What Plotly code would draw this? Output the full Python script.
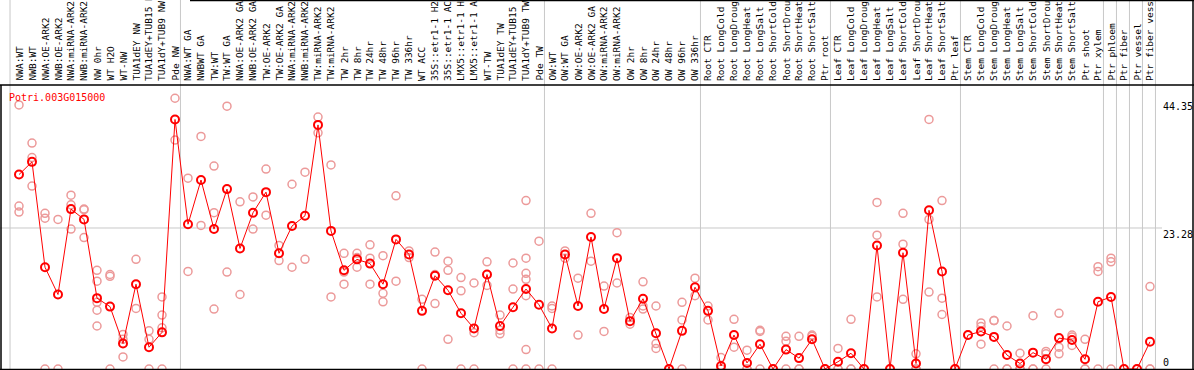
import plotly.graph_objects as go

categories = [
    "NWA:WT", "NWB:WT", "NWA:OE-ARK2", "NWB:OE-ARK2", "NWA:miRNA-ARK2", "NWB:miRNA-ARK2",
    "NW 0hr", "WT H2O", "WT-NW", "TUA1dEY NW", "TUA1dEY+TUB15 NW", "TUA1dY+TUB9 NW", "Pde NW",
    "NWA:WT GA", "NWBWT GA", "TW:WT", "TW:WT GA", "NWA:OE-ARK2 GA", "NWB:OE-ARK2 GA",
    "TW:OE-ARK2", "TW:OE-ARK2 GA", "NWA:miRNA-ARK2", "NWB:miRNA-ARK2", "TW:miRNA-ARK2",
    "TW:miRNA-ARK2", "TW 2hr", "TW 8hr", "TW 24hr", "TW 48hr", "TW 96hr", "TW 336hr",
    "WT ACC", "35S::etr1-1 H2O", "35S::etr1-1 ACC", "LMX5::etr1-1 H2O", "LMX5::etr1-1 ACC",
    "WT-TW", "TUA1dEY TW", "TUA1dEY+TUB15 TW", "TUA1dY+TUB9 TW", "Pde TW",
    "OW:WT", "OW:WT GA", "OW:OE-ARK2", "OW:OE-ARK2 GA", "OW:miRNA-ARK2", "OW:miRNA-ARK2",
    "OW 2hr", "OW 8hr", "OW 24hr", "OW 48hr", "OW 96hr", "OW 336hr",
    "Root CTR", "Root LongCold", "Root LongDrought", "Root LongHeat", "Root LongSalt",
    "Root ShortCold", "Root ShortDrought", "Root ShortHeat", "Root ShortSalt", "Ptr root",
    "Leaf CTR", "Leaf LongCold", "Leaf LongDrought", "Leaf LongHeat", "Leaf LongSalt",
    "Leaf ShortCold", "Leaf ShortDrought", "Leaf ShortHeat", "Leaf ShortSalt", "Ptr leaf",
    "Stem CTR", "Stem LongCold", "Stem LongDrought", "Stem LongHeat", "Stem LongSalt",
    "Stem ShortCold", "Stem ShortDrought", "Stem ShortHeat", "Stem ShortSalt", "Ptr shoot",
    "Ptr xylem", "Ptr phloem", "Ptr fiber", "Ptr vessel", "Ptr fiber vessel",
]

mean_values = [
    32.1, 34.2, 16.8, 12.3, 26.4, 24.7, 11.7, 10.3, 4.2, 14.0, 3.6, 6.05, 41.2,
    23.9, 31.2, 23.1, 29.7, 19.9, 25.8, 29.2, 19.1, 23.6, 25.3, 40.3, 22.8, 16.3,
    18.1, 17.4, 14.0, 21.4, 18.9, 9.6, 15.4, 13.0, 9.2, 6.7, 15.6, 7.1, 10.2, 13.2,
    10.6, 6.7, 18.9, 10.4, 21.8, 9.9, 18.3, 7.9, 11.6, 5.9, 0.0, 6.3, 13.5,
    9.6, 0.5, 5.6, 1.0, 4.1, 0.0, 3.2, 1.8, 4.9, 0.0,
    1.2, 2.6, 0.0, 20.4, 0.0, 19.2, 0.9, 26.2, 16.1, 0.0,
    5.6, 6.2, 5.3, 2.3, 0.9, 2.7, 1.6, 5.1, 4.8, 1.6,
    11.1, 11.9, 0.0, 0.0, 4.5,
]

replicate_values = [
    [43.6, 26.9, 25.9], [37.3, 34.9, 30.2], [25.7, 24.9, 0], [24.7, 0],
    [28.7, 27.1, 23.1], [26.4, 26.3, 21.7], [16.3, 14.5, 11.0, 9.7, 7.1],
    [15.6, 15.3, 0], [5.7, 4.9, 2.0], [18.1, 10.0], [6.3, 4.9, 0],
    [11.9, 8.9, 6.8, 0], [44.7, 37.8],
    [31.5, 16.1], [38.4, 23.7], [33.5, 25.8, 9.9], [43.4, 16.0], [27.6, 12.3],
    [28.4, 23.1], [33.0, 25.4], [20.4, 17.9], [30.5, 16.8], [32.5, 18.1],
    [41.6, 39.0], [33.7, 11.9], [19.1, 16.0, 14.0], [19.1, 18.4, 16.8],
    [20.5, 18.3, 14.0], [18.7, 12.5, 11.1], [28.6, 14.5], [19.5, 18.4],
    [11.5, 0], [19.3, 15.6, 10.8], [17.8, 16.3, 4.9], [15.1, 12.9, 0],
    [14.2, 6.0, 0], [17.7, 13.8], [8.9, 6.4, 5.8], [17.5, 13.2, 0],
    [27.8, 18.3, 15.8, 14.8, 12.1, 3.2, 0], [21.1, 0],
    [10.4, 10.0, 0], [19.5, 18.3], [15.0, 5.6], [25.7, 17.8], [13.7, 6.2],
    [22.5, 14.2], [8.5, 7.4], [14.4, 10.4, 9.9], [10.4, 4.2, 3.4], [0],
    [11.0, 8.1, 0], [15.0, 12.1],
    [10.4, 8.1], [1.9, 0], [8.2, 3.6], [3.1, 0, 0], [6.4, 6.2, 0], [0],
    [5.4, 4.6, 0], [5.4, 0, 0], [5.6, 5.4], [0],
    [3.4, 0, 0], [8.2, 0, 0], [0], [27.5, 22.1, 11.9], [0], [25.7, 20.6, 11.5],
    [2.5, 0, 0], [41.2, 24.7, 12.7], [27.8, 11.7, 9.0], [0],
    [5.6], [7.6, 7.0, 4.1], [8.0, 8.0, 0], [7.1, 0, 0], [2.6, 0, 0], [8.8, 0, 0],
    [2.9, 2.5, 0], [9.2, 3.6, 2.5], [5.6, 5.3, 3.9], [4.9, 0, 0],
    [16.9, 16.1, 0], [18.3, 17.7, 0], [0], [0], [13.6, 0, 0],
]

axis_labels = ["44.35", "23.28", "0"]
axis_label_values = [44.35, 23.28, 0.0]
gene_name = "Potri.003G015000"

# index of the last category of each group (a separator is drawn after it)
group_ends = [12, 40, 52, 62, 72, 83, 84, 85, 86, 87]

W, H = 1194, 370
HEADER = 85          # pixel row of the header/plot separator
X0_PX, STEP_PX = 19, 13
ZERO_PX, PX_PER_UNIT = 369, 6.057

x_idx = list(range(len(categories)))
rep_x, rep_y = [], []
for i, vals in enumerate(replicate_values):
    for v in vals:
        rep_x.append(i)
        rep_y.append(v)

fig = go.Figure()
fig.add_trace(go.Scatter(
    x=rep_x, y=rep_y, mode="markers",
    marker=dict(symbol="circle-open", size=8, color="#ec9a9a", line=dict(width=1.5, color="#ec9a9a")),
    hoverinfo="skip", showlegend=False,
))
fig.add_trace(go.Scatter(
    x=x_idx, y=mean_values, mode="lines+markers",
    line=dict(color="#ff0000", width=1),
    marker=dict(symbol="circle-open", size=8, color="#ff0000", line=dict(width=2, color="#ff0000")),
    showlegend=False,
))

x_lo = -X0_PX / STEP_PX
x_hi = (W - X0_PX) / STEP_PX
y_lo = (ZERO_PX - H) / PX_PER_UNIT
y_hi = (ZERO_PX - HEADER) / PX_PER_UNIT

shapes = []
grey = "#c8c8c8"
sep_positions = [-0.69] + [e + 0.42 for e in group_ends]
for s in sep_positions:
    shapes.append(dict(type="line", xref="x", yref="paper", x0=s, x1=s, y0=0, y1=1,
                       line=dict(color=grey, width=1), layer="below"))
shapes.append(dict(type="line", xref="paper", yref="y", x0=0, x1=1162 / W,
                   y0=axis_label_values[1], y1=axis_label_values[1],
                   line=dict(color=grey, width=1), layer="below"))
blk = dict(color="black", width=1.5)
shapes.append(dict(type="line", xref="paper", yref="paper", x0=0, x1=1,
                   y0=1 - HEADER / H, y1=1 - HEADER / H, line=blk, layer="above"))
shapes.append(dict(type="line", xref="paper", yref="paper", x0=1 / W, x1=1 / W,
                   y0=0, y1=1 - HEADER / H, line=blk, layer="above"))
shapes.append(dict(type="line", xref="paper", yref="paper", x0=1193 / W, x1=1193 / W,
                   y0=0, y1=1, line=blk, layer="above"))
shapes.append(dict(type="line", xref="paper", yref="paper", x0=0, x1=1,
                   y0=1 - 369.5 / H, y1=1 - 369.5 / H, line=blk, layer="above"))
shapes.append(dict(type="line", xref="paper", yref="paper", x0=190 / W, x1=1,
                   y0=1 - 0.5 / H, y1=1 - 0.5 / H, line=blk, layer="above"))

annotations = []
mono = "DejaVu Sans Mono, Liberation Mono, monospace"
for i, lab in enumerate(categories):
    annotations.append(dict(
        x=i, xref="x", y=1 - 82 / H, yref="paper", text=lab, textangle=-90,
        xanchor="center", yanchor="bottom", showarrow=False, borderpad=0,
        font=dict(family=mono, size=9.5, color="black"),
    ))
annotations.append(dict(
    x=8 / W, xref="paper", y=1 - 97 / H, yref="paper", text=gene_name,
    xanchor="left", yanchor="middle", showarrow=False, borderpad=0,
    font=dict(family=mono, size=10, color="#ff0000"),
))
for lab, val in zip(axis_labels, axis_label_values):
    annotations.append(dict(
        x=1162 / W, xref="paper", y=val, yref="y", text=lab,
        xanchor="left", yanchor="bottom" if val == 0 else "top", showarrow=False, borderpad=0,
        font=dict(family=mono, size=10, color="black"),
    ))

fig.update_layout(
    width=W, height=H, margin=dict(l=0, r=0, t=0, b=0),
    paper_bgcolor="white", plot_bgcolor="white",
    xaxis=dict(range=[x_lo, x_hi], showgrid=False, zeroline=False, showticklabels=False,
               ticks="", showline=False, fixedrange=True),
    yaxis=dict(range=[y_lo, y_hi], domain=[0, 1 - HEADER / H], showgrid=False, zeroline=False,
               showticklabels=False, ticks="", showline=False, fixedrange=True),
    shapes=shapes, annotations=annotations,
)

fig.write_html(
    "out.html",
    config={"displayModeBar": False},
    post_script="document.body.style.margin='0';document.body.style.overflow='hidden';",
)
